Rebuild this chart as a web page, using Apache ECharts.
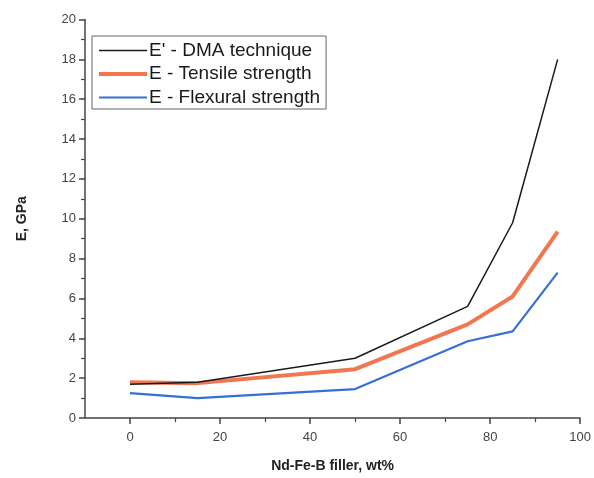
<!DOCTYPE html>
<html>
<head>
<meta charset="utf-8">
<script src="https://cdn.jsdelivr.net/npm/echarts@6/dist/echarts.min.js"></script>
<style>html,body{margin:0;padding:0;background:#fff}#c{width:594px;height:478px}</style>
</head>
<body>
<div id="c"></div>
<script>
var fillerWt = [0, 15, 50, 75, 85, 95];
var dmaModulus = [1.7, 1.8, 3.0, 5.6, 9.8, 18.0];
var tensileModulus = [1.8, 1.75, 2.45, 4.7, 6.1, 9.35];
var flexuralModulus = [1.25, 1.0, 1.45, 3.85, 4.35, 7.3];
var xMajorTicks = [0, 20, 40, 60, 80, 100];
var xMinorTicks = [10, 30, 50, 70, 90];
var seriesNames = ["E' - DMA technique", "E - Tensile strength", "E - Flexural strength"];
var seriesColors = ['#1a1a1a', '#f2764f', '#3570d6'];
var seriesWidths = [1.5, 4, 2.2];

function pairs(xs, ys) { return xs.map(function (x, i) { return [x, ys[i]]; }); }

var chart = echarts.init(document.getElementById('c'), null, {renderer: 'canvas'});
var axisColor = '#444';
var font = 'Liberation Sans, Arial, sans-serif';
chart.setOption({
  backgroundColor: '#fff',
  animation: false,
  grid: {left: 85, right: 13, top: 19.5, bottom: 58.5, containLabel: false},
  legend: {
    left: 92, top: 36,
    orient: 'vertical',
    data: seriesNames.map(function (n, i) { return {name: n, lineStyle: {width: seriesWidths[i], color: seriesColors[i]}}; }),
    itemWidth: 48, itemHeight: 14,
    itemGap: 4.5,
    padding: [5, 6, 2, 5],
    borderColor: '#666', borderWidth: 1,
    backgroundColor: '#fff',
    itemStyle: {opacity: 0, borderWidth: 0},
    textStyle: {fontFamily: font, fontSize: 19, color: '#1a1a1a', padding: [0, 0, 0, -3]}
  },
  xAxis: [{
    type: 'value', min: -10, max: 100,
    name: 'Nd-Fe-B filler, wt%', nameLocation: 'middle', nameGap: 41,
    nameTextStyle: {fontFamily: font, fontSize: 14, fontWeight: 'bold', color: '#222'},
    axisLine: {show: true, onZero: false, lineStyle: {color: axisColor, width: 1.5}},
    axisTick: {show: true, customValues: xMajorTicks, length: 6, lineStyle: {color: axisColor, width: 1.5}},
    axisLabel: {customValues: xMajorTicks, fontFamily: font, fontSize: 13, color: '#444', margin: 13},
    splitLine: {show: false}
  }, {
    type: 'value', min: -10, max: 100, position: 'bottom',
    axisLine: {show: false, onZero: false},
    axisTick: {show: true, customValues: xMinorTicks, length: 4, lineStyle: {color: axisColor, width: 1.2}},
    axisLabel: {show: false},
    splitLine: {show: false}
  }],
  yAxis: {
    type: 'value', min: 0, max: 20, interval: 2,
    name: 'E, GPa', nameLocation: 'middle', nameGap: 56,
    nameTextStyle: {fontFamily: font, fontSize: 14, fontWeight: 'bold', color: '#222'},
    axisLine: {show: true, onZero: false, lineStyle: {color: axisColor, width: 1.5}},
    axisTick: {show: true, length: 6, lineStyle: {color: axisColor, width: 1.5}},
    minorTick: {show: true, splitNumber: 2, length: 4, lineStyle: {color: axisColor, width: 1.2}},
    axisLabel: {fontFamily: font, fontSize: 13, color: '#444', margin: 9},
    splitLine: {show: false}
  },
  series: [{
    name: seriesNames[0], type: 'line', symbol: 'none',
    data: pairs(fillerWt, dmaModulus),
    lineStyle: {color: seriesColors[0], width: seriesWidths[0]}, itemStyle: {color: seriesColors[0]}, z: 3
  }, {
    name: seriesNames[1], type: 'line', symbol: 'none',
    data: pairs(fillerWt, tensileModulus),
    lineStyle: {color: seriesColors[1], width: seriesWidths[1]}, itemStyle: {color: seriesColors[1]}, z: 2
  }, {
    name: seriesNames[2], type: 'line', symbol: 'none',
    data: pairs(fillerWt, flexuralModulus),
    lineStyle: {color: seriesColors[2], width: seriesWidths[2]}, itemStyle: {color: seriesColors[2]}, z: 2
  }]
});
</script>
</body>
</html>
